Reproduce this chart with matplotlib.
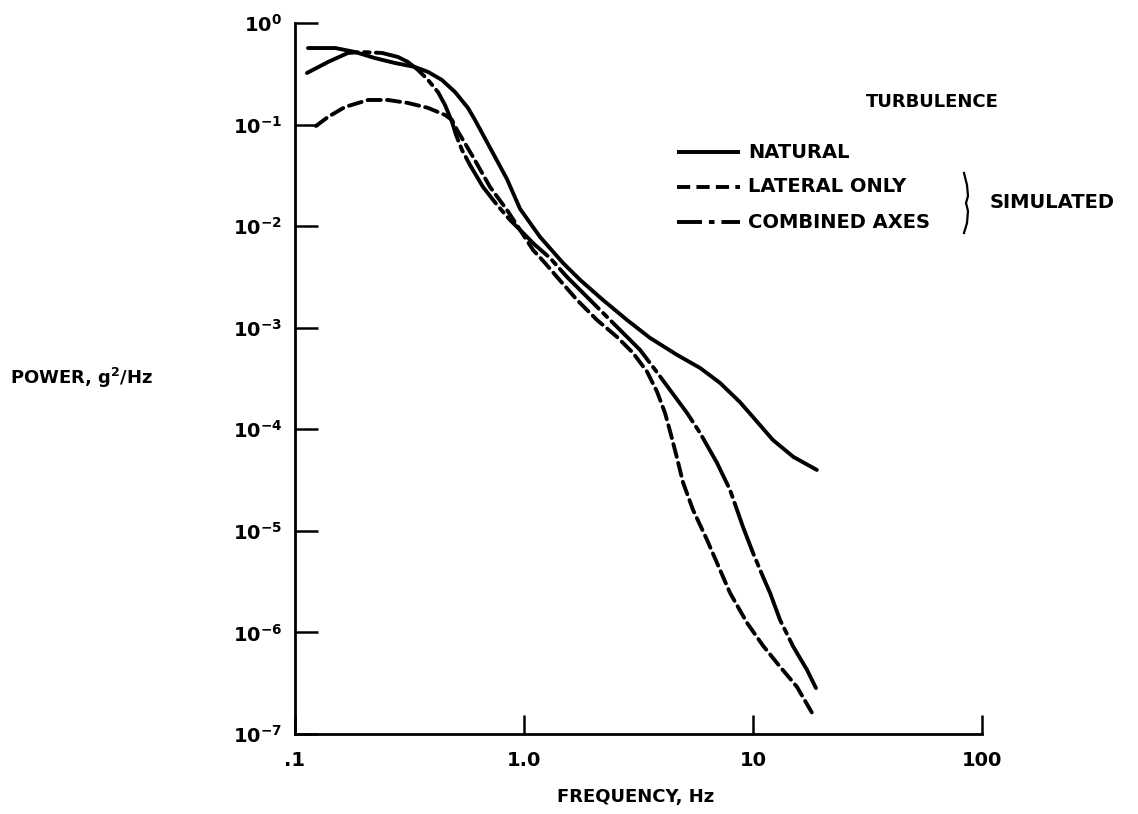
import matplotlib
matplotlib.use('Agg')
import matplotlib.pyplot as plt
from matplotlib.lines import Line2D

plt.rcParams['font.family'] = 'DejaVu Sans'
plt.rcParams['font.weight'] = 'bold'
plt.rcParams['mathtext.fontset'] = 'dejavusans'
plt.rcParams['mathtext.default'] = 'bf'
plt.rcParams['lines.scale_dashes'] = False

# curves (frequency in Hz, power in g^2/Hz)
nat_f = [0.114, 0.150, 0.183, 0.223, 0.273, 0.334, 0.381, 0.438, 0.500, 0.569,
         0.611, 0.733, 0.843, 0.961, 1.175, 1.48, 1.76, 2.21, 2.82, 3.55,
         4.66, 5.87, 7.18, 8.77, 10.0, 12.2, 15.0, 19.0]
nat_p = [0.567, 0.567, 0.518, 0.452, 0.404, 0.369, 0.330, 0.275, 0.209, 0.146,
         0.111, 0.052, 0.029, 0.0148, 0.00783, 0.00434, 0.00295, 0.00188, 0.00119, 7.94e-4,
         5.40e-4, 4.02e-4, 2.86e-4, 1.85e-4, 1.32e-4, 7.87e-5, 5.35e-5, 3.98e-5]

lat_f = [0.1235, 0.1393, 0.1653, 0.2084, 0.2547, 0.3114, 0.381, 0.452, 0.485, 0.510,
         0.599, 0.7105, 0.843, 0.961, 1.095, 1.235, 1.393, 1.703, 2.084, 2.547,
         2.992, 3.444, 3.808, 4.128, 4.341, 4.66, 4.946, 5.47, 6.297, 6.963,
         7.937, 9.415, 11.06, 13.12, 15.56, 18.10]
lat_p = [0.0969, 0.1188, 0.149, 0.1746, 0.1746, 0.1632, 0.146, 0.1243, 0.111, 0.0885,
         0.048, 0.0243, 0.0144, 0.00918, 0.00583, 0.00434, 0.00316, 0.00188, 0.00119, 8.12e-4,
         5.65e-4, 3.7e-4, 2.35e-4, 1.45e-4, 9.6e-5, 5.2e-5, 3.0e-5, 1.61e-5, 8.16e-6, 4.84e-6,
         2.45e-6, 1.243e-6, 7.4e-7, 4.6e-7, 2.91e-7, 1.617e-7]

comb_f = [0.1128, 0.1393, 0.1703, 0.1962, 0.2399, 0.2817, 0.3114, 0.3444, 0.381, 0.4211,
          0.4519, 0.4849, 0.5048, 0.5362, 0.581, 0.6622, 0.7625, 0.8686, 0.961, 1.117,
          1.299, 1.541, 2.002, 2.626, 3.211, 3.659, 4.341, 5.149, 5.87, 6.963,
          7.937, 9.04, 10.0, 11.06, 11.87, 13.12, 15.0, 17.21, 19.0]
comb_p = [0.322, 0.413, 0.507, 0.518, 0.507, 0.463, 0.413, 0.345, 0.275, 0.209,
          0.156, 0.1061, 0.079, 0.0562, 0.040, 0.0243, 0.01617, 0.01151, 0.00918, 0.00653,
          0.00486, 0.00316, 0.001754, 9.51e-4, 6.05e-4, 4.11e-4, 2.44e-4, 1.45e-4, 9.22e-5, 4.67e-5,
          2.53e-5, 1.095e-5, 6.07e-6, 3.53e-6, 2.45e-6, 1.33e-6, 7.22e-7, 4.28e-7, 2.72e-7]

xticks = [0.1, 1.0, 10, 100]
xtick_labels = ['.1', '1.0', '10', '100']
yticks = [1e-7, 1e-6, 1e-5, 1e-4, 1e-3, 1e-2, 1e-1, 1e0]
ytick_labels = ['$10^{-7}$', '$10^{-6}$', '$10^{-5}$', '$10^{-4}$',
                '$10^{-3}$', '$10^{-2}$', '$10^{-1}$', '$10^{0}$']

W, H = 1138, 814
fig = plt.figure(figsize=(W / 100, H / 100), dpi=100)
ax = fig.add_axes([295 / W, 1 - 734 / H, (982 - 295) / W, (734 - 23) / H])

def fx(px):
    return px / W

def fy(py):
    return 1 - py / H

lw = 2.8
lat_dash = (9.5, 4.5)
comb_dash = (40, 4.5, 4, 4.5)

ax.plot(nat_f, nat_p, color='black', lw=lw, solid_capstyle='round', solid_joinstyle='round')
ax.plot(lat_f, lat_p, color='black', lw=lw, dashes=lat_dash, dash_capstyle='round')
ax.plot(comb_f, comb_p, color='black', lw=lw, dashes=comb_dash, dash_capstyle='round')

ax.set_xscale('log')
ax.set_yscale('log')
ax.set_xlim(0.1, 100)
ax.set_ylim(1e-7, 1)
ax.set_xticks(xticks)
ax.set_xticklabels(xtick_labels)
ax.set_yticks(yticks)
ax.set_yticklabels(ytick_labels)
ax.minorticks_off()
ax.tick_params(axis='x', direction='in', length=14, width=1.8, pad=12, labelsize=14)
ax.tick_params(axis='y', direction='in', length=16.5, width=1.8, pad=9, labelsize=14)
for s in ['top', 'right']:
    ax.spines[s].set_visible(False)
for s in ['left', 'bottom']:
    ax.spines[s].set_linewidth(2)

fig.text(fx(10), fy(378), 'POWER, g$^{2}$/Hz', fontsize=13, fontweight='bold', ha='left', va='center')
fig.text(fx(636), fy(797), 'FREQUENCY, Hz', fontsize=13, fontweight='bold', ha='center', va='center')

# legend drawn by hand
fig.text(fx(932), fy(102), 'TURBULENCE', fontsize=13, fontweight='bold', ha='center', va='center')
items = [('NATURAL', 152, None), ('LATERAL ONLY', 187, lat_dash), ('COMBINED AXES', 222, (18, 5, 4, 5))]
for label, py, dash in items:
    ln = Line2D([fx(677), fx(740)], [fy(py), fy(py)], transform=fig.transFigure,
                color='black', lw=lw, solid_capstyle='butt')
    if dash is not None:
        ln.set_dashes(dash)
    fig.add_artist(ln)
    fig.text(fx(748), fy(py), label, fontsize=14, fontweight='bold', ha='left', va='center')

brace = Line2D([fx(964), fx(967), fx(968), fx(966), fx(968), fx(967), fx(964)],
               [fy(173), fy(185), fy(196), fy(203), fy(211), fy(223), fy(233)],
               transform=fig.transFigure, color='black', lw=1.6)
fig.add_artist(brace)
fig.text(fx(990), fy(203), 'SIMULATED', fontsize=14, fontweight='bold', ha='left', va='center')

fig.savefig('out.png', dpi=100)
